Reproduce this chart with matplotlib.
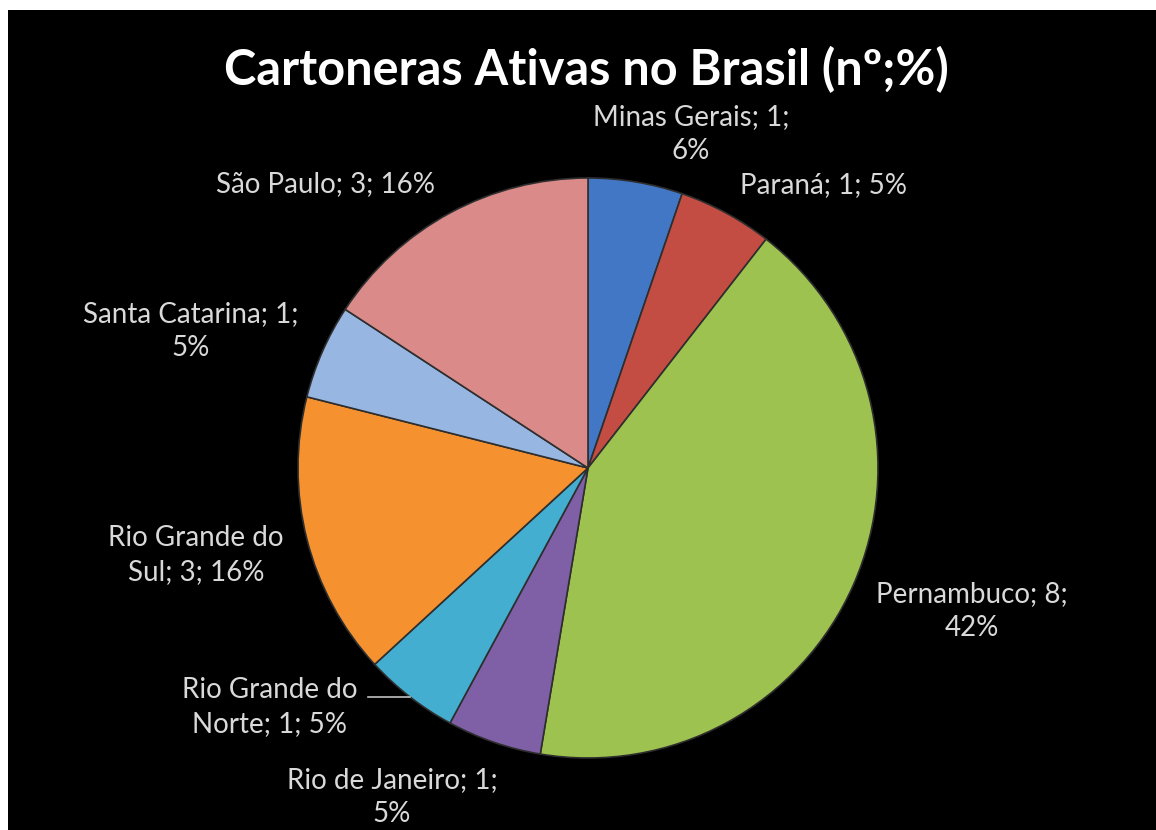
import matplotlib.pyplot as plt

# dados do gráfico
estados = [
    "Minas Gerais", "Paraná", "Pernambuco", "Rio de Janeiro",
    "Rio Grande do Norte", "Rio Grande do Sul", "Santa Catarina", "São Paulo",
]
quantidades = [1, 1, 8, 1, 1, 3, 1, 3]
percentuais = [6, 5, 42, 5, 5, 16, 5, 16]  # como rotulado no original (arredondado)
titulo = "Cartoneras Ativas no Brasil (nº;%)"

cores = ["#4177c4", "#c44d43", "#9ec24f", "#7f5fa6",
         "#43aed0", "#f5912f", "#98b6e2", "#d98a89"]

# texto dos rótulos com quebras como no original
rotulos = [
    "Minas Gerais; {q};\n{p}%",
    "Paraná; {q}; {p}%",
    "Pernambuco; {q};\n{p}%",
    "Rio de Janeiro; {q};\n{p}%",
    "Rio Grande do\nNorte; {q}; {p}%",
    "Rio Grande do\nSul; {q}; {p}%",
    "Santa Catarina; {q};\n{p}%",
    "São Paulo; {q}; {p}%",
]
# posição dos rótulos em pixels da imagem (x, y a partir do topo)
pos_rotulos = [(691, 134), (824, 185), (972, 611), (392, 797),
               (270, 707), (196, 555), (191, 331), (326, 184)]

W, H = 1156, 830
fig = plt.figure(figsize=(W / 100, H / 100), dpi=100, facecolor="white")
ax = fig.add_axes([8 / W, 0, (W - 8) / W, (H - 10) / H])
ax.set_facecolor("black")
ax.axis("off")
ax.add_patch(plt.Rectangle((8, 0), W - 8, H - 10, color="black", zorder=0))

cx, cy, raio = 588, H - 468, 290
wedges, _ = ax.pie(
    quantidades, colors=cores, startangle=90, counterclock=False,
    center=(cx, cy), radius=raio,
    wedgeprops=dict(edgecolor="#2e2e2e", linewidth=1.2),
)
ax.set_xlim(8, W)
ax.set_ylim(0, H - 10)
ax.set_aspect("equal")

fonte = ["Lato", "DejaVu Sans"]
for txt, q, p, (x, y) in zip(rotulos, quantidades, percentuais, pos_rotulos):
    ax.text(x, H - y, txt.format(q=q, p=p), ha="center", va="center",
            color="#d9d9d9", fontsize=20, family=fonte, linespacing=1.4)

# linha de chamada do Rio Grande do Norte
ax.plot([368, 410], [H - 697, H - 697], color="#bfbfbf", linewidth=1.2)

ax.text(586, H - 70, titulo, ha="center", va="center", color="white",
        fontsize=35, fontweight="bold", family=fonte)

fig.savefig("out.png", dpi=100, facecolor="white")
